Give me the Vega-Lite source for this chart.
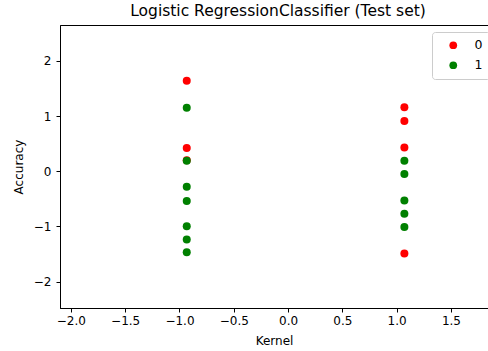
{
  "$schema": "https://vega.github.io/schema/vega-lite/v6.json",
  "width": 428,
  "height": 283,
  "autosize": {"type": "none"},
  "padding": {"left": 60, "top": 25, "right": 0, "bottom": 43},
  "background": "white",
  "title": {"text": "Logistic RegressionClassifier (Test set)", "font": "DejaVu Sans", "fontSize": 15.5, "fontWeight": "normal", "color": "black", "offset": 6, "anchor": "middle", "dx": 4},
  "config": {
    "view": {"stroke": "black", "strokeWidth": 1},
    "axis": {"labelFont": "DejaVu Sans", "titleFont": "DejaVu Sans", "labelFontSize": 12, "titleFontSize": 12, "titleFontWeight": "normal", "labelColor": "black", "titleColor": "black", "tickColor": "black", "domainColor": "black", "grid": false, "tickSize": 4, "labelPadding": 3}
  },
  "data": {"values": [
    {"x": -0.933, "y": 1.64, "c": "0"},
    {"x": -0.933, "y": 0.42, "c": "0"},
    {"x": -0.933, "y": 0.20, "c": "0"},
    {"x": 1.071, "y": 1.16, "c": "0"},
    {"x": 1.071, "y": 0.91, "c": "0"},
    {"x": 1.071, "y": 0.43, "c": "0"},
    {"x": 1.071, "y": -1.49, "c": "0"},
    {"x": -0.933, "y": 1.15, "c": "1"},
    {"x": -0.933, "y": 0.19, "c": "1"},
    {"x": -0.933, "y": -0.28, "c": "1"},
    {"x": -0.933, "y": -0.54, "c": "1"},
    {"x": -0.933, "y": -1.00, "c": "1"},
    {"x": -0.933, "y": -1.24, "c": "1"},
    {"x": -0.933, "y": -1.47, "c": "1"},
    {"x": 1.071, "y": 0.19, "c": "1"},
    {"x": 1.071, "y": -0.05, "c": "1"},
    {"x": 1.071, "y": -0.53, "c": "1"},
    {"x": 1.071, "y": -0.77, "c": "1"},
    {"x": 1.071, "y": -1.01, "c": "1"}
  ]},
  "mark": {"type": "point", "filled": true, "opacity": 1, "size": 64, "shape": "circle", "clip": true},
  "encoding": {
    "x": {"field": "x", "type": "quantitative", "scale": {"domain": [-2.1, 1.841], "nice": false, "zero": false}, "axis": {"values": [-2, -1.5, -1, -0.5, 0, 0.5, 1, 1.5], "format": ".1f", "title": "Kernel", "titlePadding": 9}},
    "y": {"field": "y", "type": "quantitative", "scale": {"domain": [-2.48, 2.65], "nice": false, "zero": false}, "axis": {"values": [-2, -1, 0, 1, 2], "format": "d", "title": "Accuracy", "titlePadding": 8, "labelPadding": 5}},
    "color": {"field": "c", "type": "nominal", "scale": {"domain": ["0", "1"], "range": ["#ff0000", "#008000"]}, "legend": {"title": null, "orient": "none", "legendX": 372, "legendY": 7, "labelFont": "DejaVu Sans", "labelFontSize": 12.5, "labelColor": "black", "symbolSize": 60, "symbolType": "circle", "symbolOffset": 8, "fillColor": "white", "strokeColor": "#cccccc", "cornerRadius": 3, "padding": 7, "rowPadding": 7, "labelOffset": 15}},
    "order": {"field": "c"}
  }
}
